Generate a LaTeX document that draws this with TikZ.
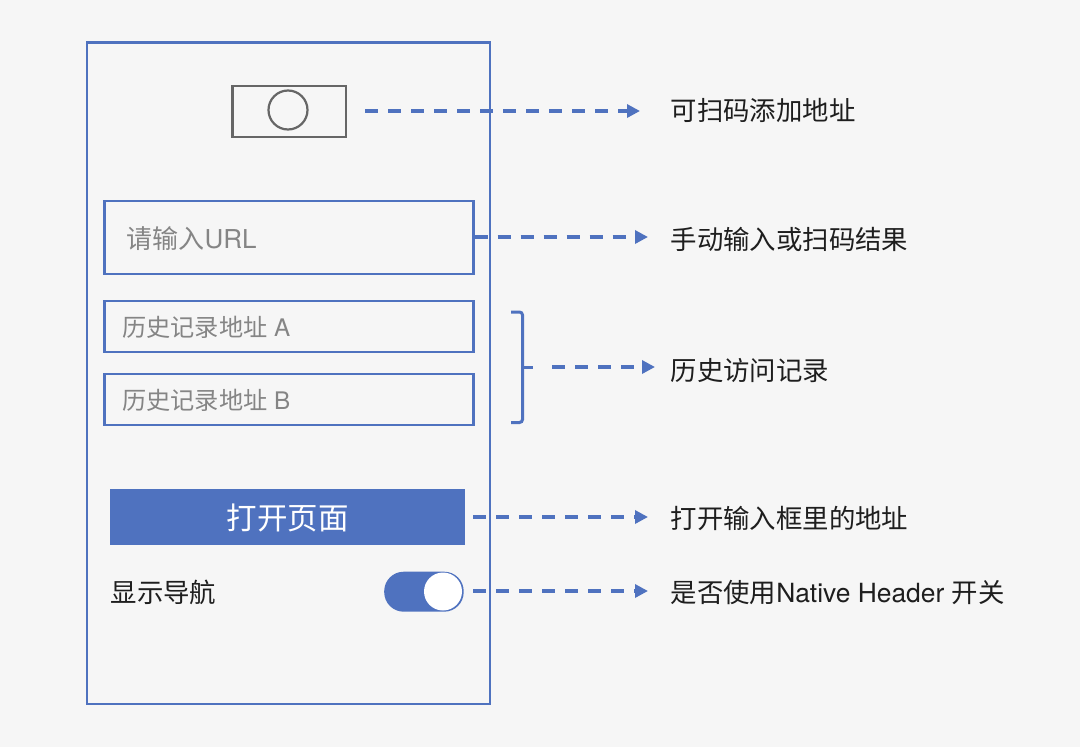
\documentclass[tikz,border=0pt]{standalone}
\usepackage{fontspec}
\setmainfont{TeX Gyre Heros}
\newfontfamily\cjk{Noto Sans CJK SC}
\usetikzlibrary{arrows.meta}
\definecolor{bluem}{HTML}{4F72BF}
\definecolor{bgm}{HTML}{F6F6F6}
\definecolor{greym}{HTML}{666666}
\definecolor{greyt}{HTML}{858585}
\definecolor{darkt}{HTML}{1E1E1E}
\tikzset{
  x=1pt,y=-1pt,
  fieldbox/.style={draw=bluem,line width=2.6pt,inner sep=0pt,minimum width=369pt,minimum height=#1,anchor=north west},
  hintt/.style={text=greyt,font=\fontsize{#1}{#1}\selectfont,inner sep=0pt,anchor=west},
  lab/.style={text=darkt,font=\fontsize{26.4}{26.4}\selectfont,inner sep=0pt,anchor=west},
  link/.style={draw=bluem,line width=3.6pt,dash pattern=on 13pt off 10pt,-{Triangle[length=13pt,width=13pt,sep=0pt]}},
}
\begin{document}
\begin{tikzpicture}
\useasboundingbox (0,0) rectangle (1080,747);
\fill[bgm] (0,0) rectangle (1080,747);
% phone
\node[draw=bluem,line width=2.6pt,inner sep=0pt,minimum width=403pt,minimum height=661.5pt,anchor=north west] (phone) at (85.8,41) {};
% camera
\node[draw=greym,line width=2.6pt,inner sep=0pt,minimum width=113.5pt,minimum height=51pt,anchor=north west] (cam) at (231,84.5) {};
\node[draw=greym,line width=2.2pt,circle,inner sep=0pt,minimum size=39pt] (lens) at (288,110) {};
% fields
\node[fieldbox=73pt] (input) at (103,199.5) {};
\node[hintt=26] (inputt) at (126.5,239) {{\cjk 请输入}URL};
\node[fieldbox=51pt] (hista) at (103,299.5) {};
\node[hintt=24.2] (histat) at (122,327.5) {{\cjk 历史记录地址} A};
\node[fieldbox=51pt] (histb) at (103,372.5) {};
\node[hintt=24.2] (histbt) at (122,400.5) {{\cjk 历史记录地址} B};
% button
\node[fill=bluem,inner sep=0pt,minimum width=355pt,minimum height=56pt,anchor=north west] (btn) at (110,489) {};
\node[text=white,inner sep=0pt,font=\fontsize{30.5}{30.5}\selectfont\cjk] (btnt) at (287.5,518) {打开页面};
% toggle
\node[lab] (navt) at (110.5,592.5) {\cjk 显示导航};
\node[fill=bluem,rounded corners=19.5pt,inner sep=0pt,minimum width=79.5pt,minimum height=40pt,anchor=north west] (tog) at (384,571.5) {};
\node[fill=white,circle,inner sep=0pt,minimum size=38pt] (knob) at (443,591.5) {};
% right labels
\node[lab] (l1) at (670.5,110) {\cjk 可扫码添加地址};
\node[lab] (l2) at (670.5,239) {\cjk 手动输入或扫码结果};
\node[lab] (l3) at (670.5,370.5) {\cjk 历史访问记录};
\node[lab] (l4) at (670.5,518) {\cjk 打开输入框里的地址};
\node[lab] (l5) at (670.5,592.5) {{\cjk 是否使用}Native Header {\cjk 开关}};
% brace
\coordinate (bt) at (511,312);
\coordinate (bb) at (511,422.5);
\coordinate (bm) at (533,367);
\draw[bluem,line width=3pt,rounded corners=3pt] (bt) -- (522.5,312) -- (522.5,422.5) -- (bb);
\draw[bluem,line width=3pt] (522.5,367) -- (bm);
% connectors
\coordinate (s1) at (365,111); \coordinate (e1) at (640,111);
\coordinate (e2) at (648,237);
\coordinate (s3) at (552,367); \coordinate (e3) at (655,367);
\coordinate (s4) at (473,517); \coordinate (e4) at (648,517);
\coordinate (s5) at (473,591); \coordinate (e5) at (648,591);
\draw[link] (s1) -- (e1);
\draw[link] (input.east |- e2) -- (e2);
\draw[link] (s3) -- (e3);
\draw[link] (s4) -- (e4);
\draw[link] (s5) -- (e5);
\end{tikzpicture}
\end{document}
